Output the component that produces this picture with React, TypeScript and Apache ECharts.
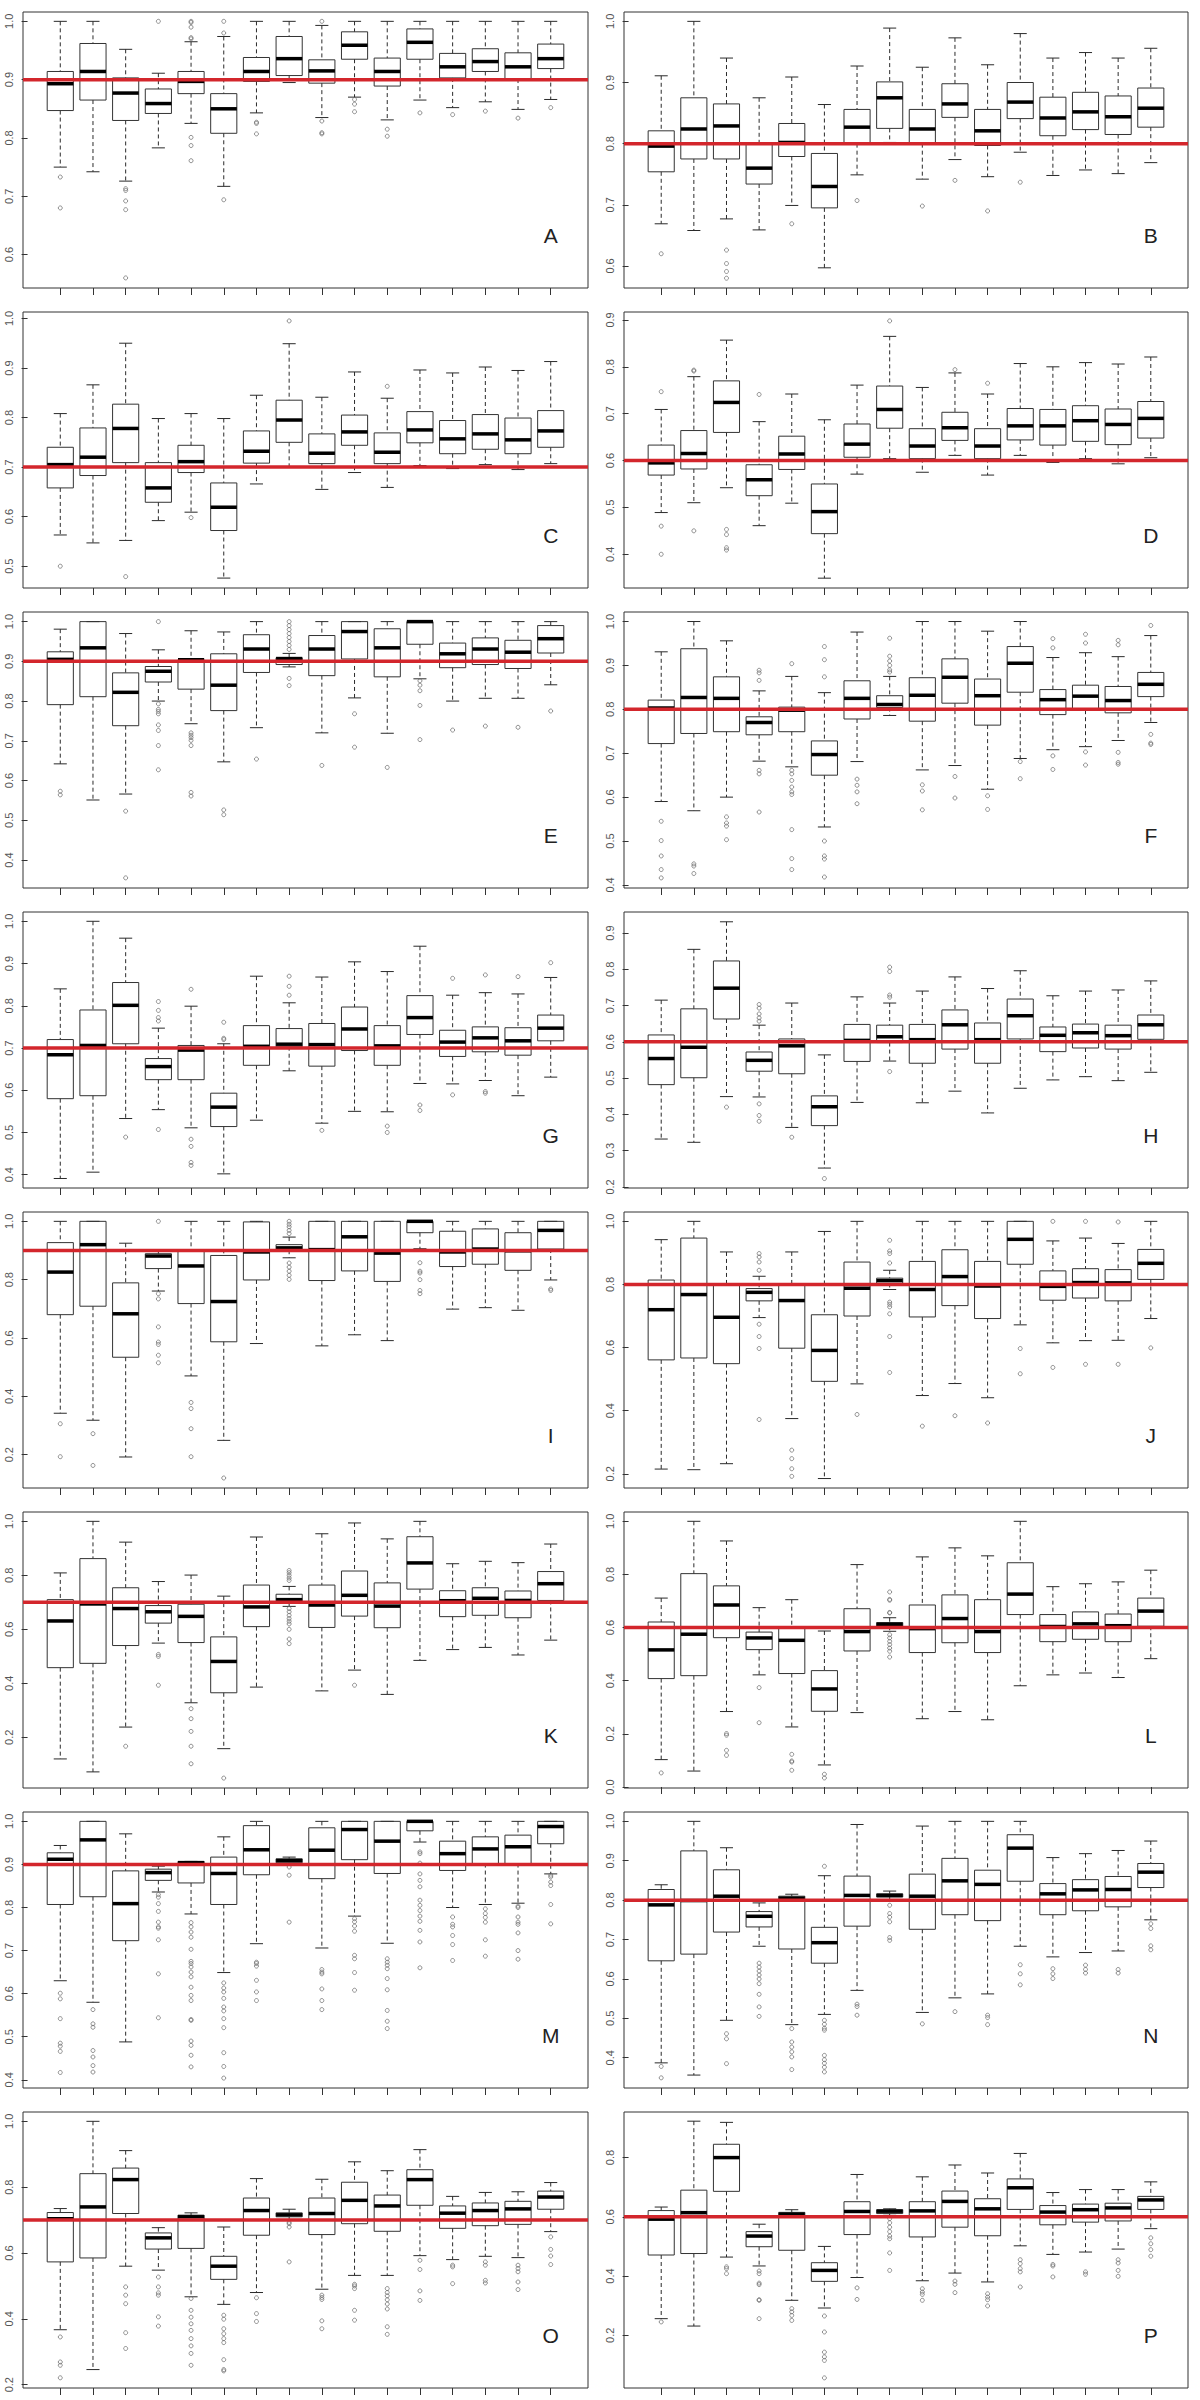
import React, { useEffect, useRef } from "react";
import * as echarts from "echarts";

// ---------- data: each row = [lower whisker, Q1, median, Q3, upper whisker] ----------
const letters = ["A", "B", "C", "D", "E", "F", "G", "H", "I", "J", "K", "L", "M", "N", "O", "P"];
const targets = [0.9, 0.8, 0.7, 0.6, 0.9, 0.8, 0.7, 0.6, 0.9, 0.8, 0.7, 0.6, 0.9, 0.8, 0.7, 0.6];
const yMins = [0.5427, 0.564, 0.456, 0.328, 0.3295, 0.393, 0.3685, 0.197, 0.0857, 0.155, 0.0123, -0.0038, 0.381, 0.3232, 0.19, 0.0218];
const yMaxs = [1.016, 1.0153, 1.013, 0.917, 1.0242, 1.0217, 1.022, 0.958, 1.032, 1.0296, 1.0346, 1.035, 1.0217, 1.0237, 1.0283, 0.954];
const yTicks = [
  [0.6, 0.7, 0.8, 0.9, 1.0],
  [0.6, 0.7, 0.8, 0.9, 1.0],
  [0.5, 0.6, 0.7, 0.8, 0.9, 1.0],
  [0.4, 0.5, 0.6, 0.7, 0.8, 0.9],
  [0.4, 0.5, 0.6, 0.7, 0.8, 0.9, 1.0],
  [0.4, 0.5, 0.6, 0.7, 0.8, 0.9, 1.0],
  [0.4, 0.5, 0.6, 0.7, 0.8, 0.9, 1.0],
  [0.2, 0.3, 0.4, 0.5, 0.6, 0.7, 0.8, 0.9],
  [0.2, 0.4, 0.6, 0.8, 1.0],
  [0.2, 0.4, 0.6, 0.8, 1.0],
  [0.2, 0.4, 0.6, 0.8, 1.0],
  [0.0, 0.2, 0.4, 0.6, 0.8, 1.0],
  [0.4, 0.5, 0.6, 0.7, 0.8, 0.9, 1.0],
  [0.4, 0.5, 0.6, 0.7, 0.8, 0.9, 1.0],
  [0.2, 0.4, 0.6, 0.8, 1.0],
  [0.2, 0.4, 0.6, 0.8],
];
const categories = [1, 2, 3, 4, 5, 6, 7, 8, 9, 10, 11, 12, 13, 14, 15, 16];

const statsA = [[0.750,0.847,0.893,0.914,1.0],[0.742,0.865,0.914,0.962,1.0],[0.726,0.830,0.877,0.903,0.952],[0.783,0.842,0.859,0.884,0.911],[0.825,0.876,0.897,0.914,0.965],[0.717,0.808,0.850,0.876,0.974],[0.843,0.897,0.914,0.938,1.0],[0.895,0.907,0.936,0.974,1.0],[0.835,0.894,0.915,0.934,0.993],[0.870,0.935,0.959,0.982,1.0],[0.831,0.889,0.914,0.937,1.0],[0.865,0.935,0.964,0.987,1.0],[0.852,0.903,0.922,0.945,1.0],[0.862,0.914,0.931,0.953,1.0],[0.849,0.901,0.922,0.946,1.0],[0.866,0.919,0.936,0.961,1.0]];
const outA = [[1,0.733],[1,0.680],[3,0.713],[3,0.710],[3,0.692],[3,0.677],[3,0.560],[4,1.0],[5,1.0],[5,0.998],[5,0.990],[5,0.972],[5,0.970],[5,0.801],[5,0.787],[5,0.761],[6,1.0],[6,0.980],[6,0.694],[7,0.827],[7,0.825],[7,0.807],[9,1.0],[9,0.829],[9,0.809],[9,0.807],[10,0.866],[10,0.858],[10,0.845],[11,0.815],[11,0.803],[12,0.843],[13,0.840],[14,0.846],[15,0.834],[16,0.852]];

const statsB = [[0.669,0.754,0.796,0.821,0.911],[0.658,0.775,0.824,0.875,1.0],[0.677,0.775,0.829,0.865,0.940],[0.659,0.734,0.760,0.800,0.875],[0.699,0.779,0.802,0.833,0.909],[0.597,0.695,0.730,0.784,0.864],[0.749,0.800,0.827,0.856,0.927],[0.802,0.825,0.875,0.901,0.989],[0.742,0.800,0.824,0.856,0.925],[0.774,0.843,0.865,0.898,0.973],[0.746,0.797,0.821,0.856,0.929],[0.786,0.841,0.868,0.900,0.980],[0.748,0.813,0.842,0.876,0.940],[0.757,0.823,0.852,0.884,0.949],[0.751,0.815,0.844,0.878,0.940],[0.769,0.827,0.858,0.891,0.956]];
const outB = [[1,0.620],[3,0.626],[3,0.604],[3,0.591],[3,0.580],[5,0.669],[7,0.707],[9,0.698],[10,0.740],[11,0.690],[12,0.737]];

const statsC = [[0.563,0.658,0.705,0.740,0.808],[0.547,0.683,0.720,0.779,0.866],[0.552,0.709,0.778,0.827,0.950],[0.592,0.629,0.658,0.709,0.798],[0.609,0.689,0.711,0.744,0.808],[0.476,0.572,0.619,0.668,0.798],[0.666,0.708,0.732,0.773,0.845],[0.700,0.750,0.795,0.835,0.949],[0.655,0.707,0.728,0.767,0.841],[0.689,0.744,0.771,0.805,0.892],[0.659,0.707,0.730,0.769,0.839],[0.703,0.749,0.775,0.812,0.896],[0.697,0.727,0.757,0.794,0.890],[0.705,0.736,0.767,0.806,0.902],[0.695,0.727,0.755,0.799,0.895],[0.707,0.740,0.773,0.814,0.913]];
const outC = [[1,0.500],[3,0.479],[5,0.598],[8,0.995],[11,0.863]];

const statsD = [[0.489,0.569,0.595,0.633,0.709],[0.510,0.582,0.615,0.664,0.779],[0.542,0.660,0.724,0.770,0.857],[0.461,0.525,0.559,0.591,0.683],[0.509,0.581,0.614,0.652,0.742],[0.349,0.444,0.491,0.550,0.687],[0.571,0.607,0.635,0.678,0.761],[0.604,0.669,0.709,0.759,0.865],[0.575,0.604,0.631,0.668,0.756],[0.611,0.643,0.670,0.703,0.787],[0.569,0.604,0.631,0.668,0.742],[0.611,0.644,0.674,0.711,0.807],[0.596,0.633,0.674,0.709,0.800],[0.604,0.641,0.685,0.717,0.809],[0.593,0.634,0.677,0.710,0.806],[0.606,0.648,0.690,0.726,0.821]];
const outD = [[1,0.747],[1,0.460],[1,0.400],[2,0.793],[2,0.791],[2,0.450],[3,0.453],[3,0.442],[3,0.414],[3,0.409],[4,0.741],[8,0.898],[10,0.794],[11,0.765]];

const statsE = [[0.642,0.791,0.905,0.924,0.981],[0.551,0.811,0.934,1.0,1.0],[0.566,0.738,0.822,0.871,0.970],[0.800,0.848,0.875,0.887,0.929],[0.743,0.830,0.904,0.904,0.977],[0.647,0.776,0.840,0.919,0.974],[0.733,0.872,0.931,0.967,1.0],[0.886,0.892,0.907,0.909,0.920],[0.720,0.864,0.931,0.965,1.0],[0.808,0.906,0.975,1.0,1.0],[0.719,0.861,0.934,0.982,1.0],[0.856,0.943,1.0,1.0,1.0],[0.800,0.884,0.919,0.946,1.0],[0.807,0.892,0.931,0.959,1.0],[0.807,0.882,0.923,0.953,1.0],[0.841,0.921,0.957,0.990,1.0]];
const outE = [[1,0.573],[1,0.564],[3,0.523],[3,0.355],[4,1.0],[4,0.793],[4,0.779],[4,0.774],[4,0.768],[4,0.740],[4,0.726],[4,0.688],[4,0.627],[5,0.720],[5,0.714],[5,0.708],[5,0.701],[5,0.688],[5,0.570],[5,0.561],[6,0.526],[6,0.514],[7,0.654],[8,1.0],[8,0.99],[8,0.98],[8,0.97],[8,0.96],[8,0.95],[8,0.94],[8,0.93],[8,0.857],[8,0.839],[9,0.638],[10,0.768],[10,0.684],[11,0.633],[12,0.851],[12,0.840],[12,0.826],[12,0.789],[12,0.703],[13,0.727],[14,0.737],[15,0.734],[16,0.775]];

const statsF = [[0.590,0.722,0.803,0.821,0.931],[0.569,0.745,0.827,0.938,1.0],[0.600,0.749,0.825,0.874,0.956],[0.682,0.742,0.770,0.783,0.842],[0.669,0.749,0.798,0.805,0.875],[0.532,0.650,0.697,0.728,0.838],[0.681,0.778,0.825,0.865,0.976],[0.786,0.804,0.811,0.831,0.875],[0.662,0.773,0.832,0.872,1.0],[0.672,0.814,0.873,0.915,1.0],[0.618,0.764,0.831,0.869,0.978],[0.688,0.839,0.905,0.943,1.0],[0.708,0.788,0.822,0.845,0.918],[0.715,0.798,0.830,0.855,0.929],[0.729,0.792,0.820,0.852,0.920],[0.770,0.829,0.857,0.884,0.968]];
const outF = [[1,0.545],[1,0.501],[1,0.466],[1,0.435],[1,0.416],[2,0.448],[2,0.443],[2,0.426],[3,0.555],[3,0.541],[3,0.534],[3,0.503],[4,0.889],[4,0.883],[4,0.866],[4,0.661],[4,0.653],[4,0.566],[5,0.904],[5,0.661],[5,0.653],[5,0.638],[5,0.623],[5,0.612],[5,0.606],[5,0.526],[5,0.460],[5,0.435],[6,0.943],[6,0.913],[6,0.874],[6,0.500],[6,0.466],[6,0.459],[6,0.418],[7,0.641],[7,0.627],[7,0.612],[7,0.585],[8,0.962],[8,0.921],[8,0.910],[8,0.900],[8,0.890],[8,0.885],[9,0.628],[9,0.614],[9,0.571],[10,0.647],[10,0.598],[11,0.603],[11,0.572],[12,0.681],[12,0.642],[13,0.961],[13,0.940],[13,0.694],[13,0.663],[14,0.971],[14,0.951],[14,0.703],[14,0.673],[15,0.957],[15,0.947],[15,0.702],[15,0.679],[15,0.675],[16,0.991],[16,0.743],[16,0.723],[16,0.720]];

const statsG = [[0.391,0.580,0.684,0.720,0.840],[0.406,0.587,0.706,0.790,1.0],[0.533,0.710,0.801,0.855,0.960],[0.554,0.625,0.656,0.675,0.747],[0.511,0.625,0.695,0.706,0.799],[0.402,0.514,0.560,0.593,0.710],[0.529,0.659,0.704,0.753,0.870],[0.646,0.703,0.709,0.746,0.807],[0.522,0.657,0.708,0.758,0.868],[0.550,0.694,0.745,0.797,0.904],[0.549,0.659,0.705,0.753,0.881],[0.616,0.732,0.772,0.824,0.941],[0.615,0.680,0.714,0.742,0.825],[0.623,0.691,0.724,0.750,0.831],[0.587,0.683,0.717,0.748,0.828],[0.631,0.717,0.747,0.778,0.867]];
const outG = [[3,0.489],[4,0.810],[4,0.789],[4,0.772],[4,0.764],[4,0.507],[5,0.839],[5,0.484],[5,0.467],[5,0.429],[5,0.422],[6,0.761],[6,0.723],[6,0.720],[8,0.870],[8,0.846],[8,0.825],[9,0.505],[11,0.515],[11,0.500],[12,0.565],[12,0.552],[13,0.865],[13,0.589],[14,0.873],[14,0.597],[14,0.593],[15,0.869],[16,0.902]];

const statsH = [[0.332,0.482,0.554,0.619,0.715],[0.323,0.501,0.585,0.691,0.855],[0.449,0.663,0.748,0.823,0.931],[0.448,0.519,0.549,0.572,0.646],[0.364,0.512,0.589,0.608,0.707],[0.252,0.369,0.421,0.451,0.564],[0.433,0.546,0.604,0.648,0.724],[0.547,0.598,0.614,0.646,0.707],[0.432,0.541,0.606,0.648,0.740],[0.464,0.580,0.647,0.688,0.779],[0.404,0.541,0.606,0.652,0.747],[0.472,0.608,0.672,0.718,0.796],[0.495,0.573,0.618,0.641,0.727],[0.504,0.583,0.625,0.649,0.740],[0.493,0.580,0.617,0.646,0.743],[0.516,0.607,0.647,0.674,0.768]];
const outH = [[3,0.420],[4,0.703],[4,0.693],[4,0.677],[4,0.666],[4,0.657],[4,0.429],[4,0.397],[4,0.381],[5,0.337],[6,0.223],[8,0.806],[8,0.794],[8,0.729],[8,0.723],[8,0.518]];

const statsI = [[0.342,0.680,0.826,0.927,1.0],[0.318,0.709,0.920,1.0,1.0],[0.192,0.534,0.683,0.789,0.925],[0.761,0.838,0.881,0.889,0.898],[0.470,0.718,0.847,0.903,1.0],[0.249,0.587,0.725,0.883,1.0],[0.581,0.799,0.895,0.998,1.0],[0.875,0.901,0.909,0.920,0.946],[0.573,0.797,0.903,1.0,1.0],[0.611,0.830,0.947,1.0,1.0],[0.591,0.794,0.891,1.0,1.0],[0.906,0.961,1.0,1.0,1.0],[0.699,0.845,0.895,0.966,1.0],[0.704,0.853,0.905,0.974,1.0],[0.695,0.832,0.899,0.961,1.0],[0.799,0.905,0.969,1.0,1.0]];
const outI = [[1,0.306],[1,0.193],[2,0.272],[2,0.163],[4,1.0],[4,0.752],[4,0.734],[4,0.638],[4,0.586],[4,0.578],[4,0.541],[4,0.515],[5,0.379],[5,0.358],[5,0.289],[5,0.193],[6,0.120],[8,1.0],[8,0.99],[8,0.981],[8,0.969],[8,0.958],[8,0.857],[8,0.843],[8,0.829],[8,0.815],[8,0.801],[12,0.858],[12,0.829],[12,0.823],[12,0.800],[12,0.763],[12,0.752],[16,0.768],[16,0.763]];

const statsJ = [[0.215,0.561,0.720,0.814,0.942],[0.213,0.567,0.768,0.947,1.0],[0.232,0.549,0.696,0.800,0.903],[0.695,0.748,0.775,0.787,0.826],[0.375,0.598,0.749,0.800,0.903],[0.185,0.493,0.591,0.704,0.968],[0.485,0.700,0.788,0.871,1.0],[0.784,0.803,0.812,0.820,0.845],[0.448,0.697,0.784,0.873,1.0],[0.486,0.733,0.825,0.910,1.0],[0.441,0.692,0.795,0.873,1.0],[0.672,0.864,0.943,1.0,1.0],[0.615,0.750,0.794,0.843,0.938],[0.622,0.757,0.806,0.850,0.947],[0.623,0.748,0.805,0.847,0.930],[0.692,0.816,0.867,0.911,1.0]];
const outJ = [[4,0.898],[4,0.887],[4,0.871],[4,0.845],[4,0.674],[4,0.635],[4,0.597],[4,0.372],[5,0.275],[5,0.248],[5,0.216],[5,0.192],[7,0.388],[8,0.940],[8,0.906],[8,0.898],[8,0.868],[8,0.744],[8,0.737],[8,0.729],[8,0.707],[8,0.635],[8,0.521],[9,0.351],[10,0.384],[11,0.361],[12,0.597],[12,0.517],[13,1.0],[13,0.537],[14,1.0],[14,0.547],[15,0.998],[15,0.547],[16,0.599]];

const statsK = [[0.120,0.458,0.631,0.710,0.809],[0.072,0.474,0.694,0.862,1.0],[0.238,0.540,0.677,0.754,0.923],[0.549,0.623,0.665,0.688,0.777],[0.328,0.551,0.648,0.693,0.801],[0.158,0.365,0.481,0.572,0.723],[0.386,0.610,0.683,0.764,0.942],[0.685,0.701,0.710,0.730,0.759],[0.372,0.607,0.690,0.764,0.954],[0.449,0.649,0.726,0.816,0.994],[0.359,0.606,0.686,0.772,0.935],[0.485,0.749,0.846,0.943,1.0],[0.525,0.647,0.706,0.743,0.843],[0.533,0.652,0.715,0.754,0.852],[0.505,0.643,0.707,0.742,0.847],[0.560,0.707,0.769,0.814,0.916]];
const outK = [[3,0.167],[4,0.507],[4,0.500],[4,0.393],[5,0.306],[5,0.269],[5,0.222],[5,0.167],[5,0.102],[6,0.049],[8,0.818],[8,0.810],[8,0.800],[8,0.790],[8,0.781],[8,0.677],[8,0.665],[8,0.652],[8,0.640],[8,0.630],[8,0.620],[8,0.600],[8,0.564],[8,0.547],[10,0.393]];

const statsL = [[0.103,0.408,0.516,0.621,0.711],[0.060,0.419,0.575,0.803,1.0],[0.284,0.562,0.685,0.757,0.926],[0.422,0.517,0.561,0.583,0.675],[0.226,0.427,0.552,0.597,0.705],[0.083,0.285,0.369,0.438,0.587],[0.280,0.512,0.585,0.671,0.837],[0.586,0.605,0.612,0.619,0.637],[0.257,0.506,0.596,0.685,0.866],[0.284,0.543,0.634,0.723,0.900],[0.253,0.506,0.585,0.705,0.870],[0.381,0.649,0.726,0.844,1.0],[0.422,0.547,0.604,0.649,0.754],[0.429,0.556,0.614,0.659,0.765],[0.412,0.547,0.607,0.651,0.772],[0.483,0.605,0.662,0.711,0.816]];
const outL = [[1,0.053],[3,0.201],[3,0.195],[3,0.138],[3,0.119],[4,0.374],[4,0.242],[5,0.123],[5,0.098],[5,0.094],[5,0.063],[6,0.048],[6,0.034],[8,0.734],[8,0.706],[8,0.703],[8,0.657],[8,0.655],[8,0.573],[8,0.561],[8,0.548],[8,0.536],[8,0.523],[8,0.511],[8,0.489]];

const statsM = [[0.630,0.807,0.912,0.927,0.944],[0.580,0.825,0.957,1.0,1.0],[0.488,0.723,0.809,0.885,0.971],[0.836,0.863,0.881,0.889,0.896],[0.785,0.857,0.904,0.907,0.907],[0.649,0.807,0.879,0.917,0.964],[0.716,0.876,0.934,0.990,1.0],[0.900,0.904,0.909,0.913,0.917],[0.706,0.867,0.933,0.985,1.0],[0.780,0.911,0.981,1.0,1.0],[0.717,0.879,0.954,1.0,1.0],[0.952,0.978,1.0,1.0,1.0],[0.800,0.886,0.925,0.954,1.0],[0.807,0.902,0.936,0.964,1.0],[0.810,0.902,0.941,0.968,1.0],[0.878,0.948,0.988,1.0,1.0]];
const outM = [[1,0.601],[1,0.588],[1,0.542],[1,0.485],[1,0.478],[1,0.466],[1,0.417],[2,0.563],[2,0.530],[2,0.522],[2,0.468],[2,0.453],[2,0.433],[2,0.418],[4,0.830],[4,0.824],[4,0.809],[4,0.791],[4,0.766],[4,0.755],[4,0.752],[4,0.725],[4,0.646],[4,0.544],[5,0.765],[5,0.755],[5,0.743],[5,0.731],[5,0.703],[5,0.675],[5,0.670],[5,0.662],[5,0.650],[5,0.639],[5,0.615],[5,0.596],[5,0.584],[5,0.540],[5,0.538],[5,0.490],[5,0.480],[5,0.457],[5,0.430],[6,0.625],[6,0.613],[6,0.604],[6,0.589],[6,0.569],[6,0.560],[6,0.542],[6,0.521],[6,0.463],[6,0.431],[6,0.404],[7,0.673],[7,0.670],[7,0.664],[7,0.631],[7,0.604],[7,0.584],[8,0.894],[8,0.875],[8,0.766],[9,0.656],[9,0.650],[9,0.646],[9,0.611],[9,0.584],[9,0.563],[10,0.774],[10,0.767],[10,0.757],[10,0.745],[10,0.689],[10,0.681],[10,0.649],[10,0.608],[11,0.681],[11,0.673],[11,0.666],[11,0.658],[11,0.635],[11,0.609],[11,0.561],[11,0.536],[11,0.519],[12,0.929],[12,0.925],[12,0.903],[12,0.878],[12,0.863],[12,0.848],[12,0.817],[12,0.805],[12,0.793],[12,0.780],[12,0.768],[12,0.747],[12,0.720],[12,0.660],[13,0.778],[13,0.761],[13,0.755],[13,0.735],[13,0.714],[13,0.677],[14,0.797],[14,0.786],[14,0.777],[14,0.766],[14,0.725],[14,0.687],[15,0.803],[15,0.800],[15,0.778],[15,0.766],[15,0.761],[15,0.741],[15,0.700],[15,0.680],[16,0.875],[16,0.871],[16,0.859],[16,0.851],[16,0.807],[16,0.762]];

const statsN = [[0.387,0.646,0.788,0.827,0.839],[0.356,0.663,0.799,0.925,1.0],[0.495,0.719,0.810,0.877,0.933],[0.683,0.732,0.759,0.771,0.793],[0.484,0.676,0.805,0.810,0.815],[0.510,0.640,0.692,0.731,0.862],[0.571,0.734,0.812,0.861,0.992],[0.797,0.808,0.812,0.816,0.823],[0.515,0.726,0.810,0.866,0.988],[0.552,0.763,0.849,0.906,1.0],[0.562,0.748,0.840,0.876,1.0],[0.683,0.848,0.932,0.966,1.0],[0.656,0.763,0.816,0.842,0.908],[0.667,0.773,0.826,0.852,0.918],[0.671,0.783,0.827,0.860,0.926],[0.750,0.832,0.871,0.893,0.950]];
const outN = [[1,0.378],[1,0.349],[3,0.461],[3,0.448],[3,0.385],[4,0.640],[4,0.630],[4,0.620],[4,0.610],[4,0.600],[4,0.588],[4,0.561],[4,0.529],[4,0.505],[5,0.474],[5,0.440],[5,0.427],[5,0.415],[5,0.402],[5,0.370],[6,0.886],[6,0.495],[6,0.485],[6,0.475],[6,0.470],[6,0.406],[6,0.395],[6,0.386],[6,0.376],[6,0.364],[7,0.536],[7,0.530],[7,0.508],[8,0.787],[8,0.766],[8,0.757],[8,0.745],[8,0.705],[8,0.698],[9,0.486],[10,0.517],[11,0.508],[11,0.502],[11,0.484],[12,0.636],[12,0.613],[12,0.585],[13,0.626],[13,0.613],[13,0.601],[14,0.635],[14,0.624],[14,0.615],[15,0.624],[15,0.615],[16,0.740],[16,0.728],[16,0.684],[16,0.674]];

const statsO = [[0.367,0.573,0.704,0.723,0.735],[0.246,0.585,0.740,0.841,1.0],[0.560,0.720,0.823,0.858,0.911],[0.548,0.612,0.646,0.661,0.677],[0.467,0.614,0.710,0.715,0.722],[0.444,0.520,0.560,0.590,0.679],[0.480,0.654,0.729,0.767,0.826],[0.699,0.710,0.716,0.722,0.733],[0.490,0.656,0.720,0.767,0.824],[0.532,0.689,0.760,0.815,0.877],[0.532,0.666,0.743,0.776,0.850],[0.592,0.745,0.823,0.853,0.914],[0.580,0.675,0.721,0.743,0.772],[0.590,0.683,0.729,0.752,0.784],[0.586,0.687,0.734,0.757,0.786],[0.665,0.733,0.770,0.788,0.814]];
const outO = [[1,0.345],[1,0.269],[1,0.259],[1,0.221],[3,0.497],[3,0.472],[3,0.446],[3,0.358],[3,0.310],[4,0.527],[4,0.497],[4,0.479],[4,0.472],[4,0.406],[4,0.378],[5,0.462],[5,0.426],[5,0.405],[5,0.385],[5,0.365],[5,0.340],[5,0.318],[5,0.295],[5,0.259],[6,0.411],[6,0.399],[6,0.370],[6,0.355],[6,0.340],[6,0.328],[6,0.276],[6,0.246],[6,0.242],[7,0.464],[7,0.416],[7,0.392],[8,0.693],[8,0.689],[8,0.679],[8,0.573],[9,0.472],[9,0.465],[9,0.459],[9,0.394],[9,0.370],[10,0.505],[10,0.500],[10,0.492],[10,0.426],[10,0.396],[11,0.492],[11,0.480],[11,0.470],[11,0.458],[11,0.445],[11,0.430],[11,0.376],[11,0.353],[12,0.578],[12,0.550],[12,0.485],[12,0.456],[13,0.563],[13,0.558],[13,0.507],[14,0.573],[14,0.563],[14,0.517],[14,0.509],[15,0.563],[15,0.553],[15,0.543],[15,0.512],[15,0.489],[16,0.649],[16,0.611],[16,0.591],[16,0.565]];

const statsP = [[0.256,0.471,0.592,0.621,0.633],[0.231,0.476,0.614,0.690,0.923],[0.464,0.686,0.800,0.845,0.919],[0.434,0.499,0.535,0.550,0.575],[0.318,0.487,0.609,0.615,0.624],[0.292,0.382,0.419,0.445,0.500],[0.395,0.540,0.618,0.651,0.743],[0.605,0.611,0.619,0.624,0.627],[0.384,0.532,0.620,0.651,0.735],[0.410,0.565,0.652,0.687,0.775],[0.380,0.536,0.627,0.661,0.748],[0.502,0.625,0.698,0.728,0.814],[0.473,0.573,0.616,0.638,0.682],[0.481,0.582,0.624,0.643,0.692],[0.491,0.586,0.630,0.646,0.692],[0.560,0.625,0.657,0.669,0.718]];
const outP = [[1,0.245],[3,0.431],[3,0.425],[3,0.408],[4,0.417],[4,0.408],[4,0.376],[4,0.371],[4,0.320],[4,0.318],[4,0.256],[5,0.290],[5,0.279],[5,0.267],[5,0.250],[6,0.265],[6,0.211],[6,0.143],[6,0.127],[6,0.115],[6,0.056],[7,0.360],[7,0.321],[8,0.594],[8,0.580],[8,0.565],[8,0.550],[8,0.535],[8,0.526],[8,0.478],[8,0.419],[9,0.357],[9,0.346],[9,0.338],[9,0.318],[10,0.383],[10,0.372],[10,0.344],[11,0.340],[11,0.329],[11,0.320],[11,0.299],[12,0.455],[12,0.442],[12,0.425],[12,0.414],[12,0.363],[13,0.439],[13,0.434],[13,0.397],[14,0.414],[14,0.406],[15,0.455],[15,0.444],[15,0.419],[15,0.399],[16,0.529],[16,0.509],[16,0.489],[16,0.467]];

const allStats = [statsA, statsB, statsC, statsD, statsE, statsF, statsG, statsH, statsI, statsJ, statsK, statsL, statsM, statsN, statsO, statsP];
const allOut = [outA, outB, outC, outD, outE, outF, outG, outH, outI, outJ, outK, outL, outM, outN, outO, outP];

// ---------- layout ----------
const X_MIN = -0.14;
const X_MAX = 17.14;
const FONT = "'Liberation Sans', 'DejaVu Sans', Arial, sans-serif";

function renderBox(params: any, api: any) {
  const x = api.value(0);
  const lo = api.coord([x, api.value(1)]);
  const q1 = api.coord([x, api.value(2)]);
  const md = api.coord([x, api.value(3)]);
  const q3 = api.coord([x, api.value(4)]);
  const hi = api.coord([x, api.value(5)]);
  const unit = api.size([1, 0])[0];
  const bw = unit * 0.8;
  const cw = bw * 0.5;
  const cx = lo[0];
  const dash = { stroke: "#2a2a2a", lineWidth: 1, lineDash: [4, 3], fill: null };
  const solid = { stroke: "#2a2a2a", lineWidth: 1, fill: null };
  return {
    type: "group",
    children: [
      { type: "line", shape: { x1: cx, y1: hi[1], x2: cx, y2: q3[1] }, style: dash },
      { type: "line", shape: { x1: cx, y1: q1[1], x2: cx, y2: lo[1] }, style: dash },
      { type: "line", shape: { x1: cx - cw / 2, y1: hi[1], x2: cx + cw / 2, y2: hi[1] }, style: solid },
      { type: "line", shape: { x1: cx - cw / 2, y1: lo[1], x2: cx + cw / 2, y2: lo[1] }, style: solid },
      { type: "rect", shape: { x: cx - bw / 2, y: q3[1], width: bw, height: q1[1] - q3[1] }, style: { stroke: "#333", lineWidth: 1, fill: "rgba(0,0,0,0)" } },
      { type: "line", shape: { x1: cx - bw / 2, y1: md[1], x2: cx + bw / 2, y2: md[1] }, style: { stroke: "#000", lineWidth: 3.5, fill: null } },
    ],
  };
}

function buildOption() {
  const grid: any[] = [];
  const xAxis: any[] = [];
  const yAxis: any[] = [];
  const series: any[] = [];
  const graphic: any[] = [];
  for (let i = 0; i < 16; i++) {
    const col = i % 2;
    const row = Math.floor(i / 2);
    const left = col === 0 ? 23 : 624;
    const width = col === 0 ? 565 : 564;
    const top = row * 300 + 12;
    const height = 276;
    grid.push({ left, top, width, height, show: true, borderColor: "#333", borderWidth: 1, backgroundColor: "transparent" });
    xAxis.push({
      type: "value", gridIndex: i, min: X_MIN, max: X_MAX,
      axisLine: { show: false },
      axisTick: { show: true, customValues: categories, length: 7, lineStyle: { color: "#333" } },
      axisLabel: { show: false },
      splitLine: { show: false },
    });
    yAxis.push({
      type: "value", gridIndex: i, min: yMins[i], max: yMaxs[i],
      axisLine: { show: false },
      axisTick: { show: true, customValues: yTicks[i], length: 6, lineStyle: { color: "#333" } },
      axisLabel: {
        show: true, customValues: yTicks[i], rotate: 90, margin: 9,
        formatter: (v: number) => v.toFixed(1),
        fontSize: 11, color: "#555", fontFamily: FONT,
      },
      splitLine: { show: false },
    });
    series.push({
      type: "custom", xAxisIndex: i, yAxisIndex: i, z: 2,
      renderItem: renderBox,
      encode: { x: 0, y: [1, 2, 3, 4, 5] },
      data: allStats[i].map((s, j) => [categories[j], ...s]),
    });
    series.push({
      type: "scatter", xAxisIndex: i, yAxisIndex: i, z: 3,
      symbol: "circle", symbolSize: 4,
      itemStyle: { color: "rgba(0,0,0,0)", borderColor: "#666", borderWidth: 0.9 },
      data: allOut[i],
    });
    series.push({
      type: "line", xAxisIndex: i, yAxisIndex: i, z: 5,
      showSymbol: false, symbol: "none",
      lineStyle: { color: "#d3262c", width: 3.5 },
      data: [[X_MIN, targets[i]], [X_MAX, targets[i]]],
    });
    const unit = width / (X_MAX - X_MIN);
    graphic.push({
      type: "text",
      x: left + (16 - X_MIN) * unit,
      y: top + 223,
      style: { text: letters[i], align: "center", verticalAlign: "middle", fontSize: 21, fill: "#222", fontFamily: FONT },
    });
  }
  return { animation: false, backgroundColor: "#fff", grid, xAxis, yAxis, series, graphic };
}

export default function App() {
  const ref = useRef<HTMLDivElement>(null);
  useEffect(() => {
    if (!ref.current) return;
    const chart = echarts.init(ref.current, undefined, { renderer: "svg" });
    chart.setOption(buildOption() as any);
    return () => chart.dispose();
  }, []);
  return (
    <div
      ref={ref}
      style={{ position: "absolute", left: 0, top: 0, width: 1200, height: 2400, background: "#fff" }}
    />
  );
}
